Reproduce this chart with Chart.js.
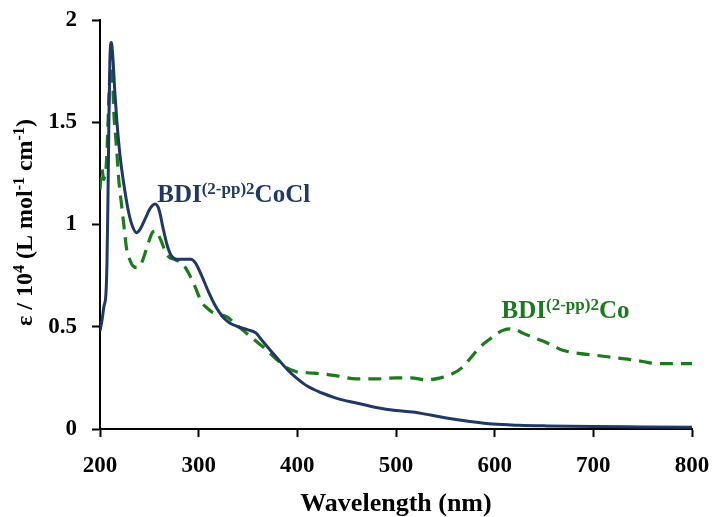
<!DOCTYPE html>
<html>
<head>
<meta charset="utf-8">
<script src="https://cdn.jsdelivr.net/npm/chart.js@4.4.1/dist/chart.umd.min.js"></script>
<style>
html,body{margin:0;padding:0;background:#fff;}
canvas{display:block;}
</style>
</head>
<body>
<canvas id="c" width="712" height="517"></canvas>
<script>
// ---- data ----
const wlCoCl = [200,202,204,206,207,208,209,210,211.5,213,215,217,220,222,225,229,233,237,241,246,251,256,260,264,268,272,278,285,292,297,303,310,316,321,326,331,340,350,358,363,370,379,390,399,410,425,440,460,480,500,517,535,551,575,598,625,653,700,750,800];
const epsCoCl = [0.48,0.53,0.60,0.66,0.80,1.10,1.50,1.80,1.89,1.82,1.65,1.51,1.35,1.27,1.17,1.06,0.99,0.96,0.98,1.03,1.08,1.10,1.07,0.98,0.90,0.85,0.83,0.83,0.83,0.81,0.75,0.67,0.61,0.57,0.54,0.52,0.50,0.485,0.47,0.44,0.40,0.35,0.29,0.25,0.21,0.176,0.15,0.127,0.105,0.09,0.083,0.068,0.054,0.037,0.024,0.018,0.015,0.012,0.01,0.008];

const wlCo = [200,201,202,203,204,205,206,207,208,209,210,211.5,213,214,216,217,219,222,225,227,230,233,237,241,245,249,253,256,259,262,266,270,275,280,285,290,296,303,309,314,320,328,338,348,358,368,378,389,399,410,425,440,460,480,500,515,531,545,555,567,576,585,598,607,615,622,628,638,649,660,669,685,703,720,737,750,764,780,800];
const epsCo = [1.17,1.23,1.27,1.24,1.22,1.25,1.27,1.35,1.48,1.62,1.73,1.77,1.68,1.55,1.42,1.36,1.22,1.09,0.96,0.88,0.83,0.80,0.79,0.80,0.85,0.91,0.96,0.97,0.95,0.92,0.87,0.84,0.83,0.82,0.80,0.76,0.70,0.62,0.59,0.57,0.56,0.55,0.51,0.47,0.43,0.39,0.345,0.30,0.28,0.275,0.27,0.26,0.245,0.245,0.25,0.25,0.24,0.25,0.265,0.30,0.35,0.40,0.45,0.48,0.49,0.485,0.47,0.45,0.43,0.405,0.385,0.37,0.36,0.35,0.34,0.33,0.32,0.32,0.32];

const xTicks = [200,300,400,500,600,700,800];
const yTicks = [0,0.5,1,1.5,2];

const labelCoCl = [{t:'BDI'},{t:'(2-pp)2',sup:true},{t:'CoCl'}];
const labelCo = [{t:'BDI'},{t:'(2-pp)2',sup:true},{t:'Co'}];
const yTitle = [{t:'\u03B5 / 10'},{t:'4',sup:true},{t:' (L mol'},{t:'-1',sup:true},{t:' cm'},{t:'-1',sup:true},{t:')'}];

// ---- styling ----
const SERIF = '"Liberation Serif","Times New Roman",serif';
const BLUE = '#203864';
const GREEN = '#1b7a1b';

function toPts(xs, ys){ return xs.map((x,i)=>({x:x,y:ys[i]})); }

function richWidth(ctx, segs, size, supSize){
  let w=0;
  for(const s of segs){
    ctx.font = 'bold '+(s.sup?supSize:size)+'px '+SERIF;
    w += ctx.measureText(s.t).width;
  }
  return w;
}
function drawRich(ctx, segs, x, y, size, supSize, rise, color){
  ctx.fillStyle = color;
  ctx.textBaseline = 'alphabetic';
  ctx.textAlign = 'left';
  let cx = x;
  for(const s of segs){
    ctx.font = 'bold '+(s.sup?supSize:size)+'px '+SERIF;
    ctx.fillText(s.t, cx, s.sup? y-rise : y);
    cx += ctx.measureText(s.t).width;
  }
}

const textPlugin = {
  id:'textPlugin',
  afterDraw(chart){
    const ctx = chart.ctx;
    const xs = chart.scales.x, ys = chart.scales.y;
    const ca = chart.chartArea;
    ctx.save();
    drawRich(ctx, labelCoCl, xs.getPixelForValue(258), ys.getPixelForValue(1.11), 25, 17, 8, BLUE);
    drawRich(ctx, labelCo, xs.getPixelForValue(607), ys.getPixelForValue(0.543), 25, 17, 8, GREEN);
    const w = richWidth(ctx, yTitle, 24, 16);
    ctx.translate(ca.left-68, (ca.top+ca.bottom)/2 - 2);
    ctx.rotate(-Math.PI/2);
    drawRich(ctx, yTitle, -w/2, 0, 24, 16, 8, '#000');
    ctx.restore();
  }
};

new Chart(document.getElementById('c'), {
  type:'line',
  data:{
    datasets:[
      {label:'BDI(2-pp)2CoCl', data:toPts(wlCoCl,epsCoCl), borderColor:BLUE, borderWidth:3, pointRadius:0, cubicInterpolationMode:'monotone', fill:false},
      {label:'BDI(2-pp)2Co', data:toPts(wlCo,epsCo), borderColor:GREEN, borderWidth:3.2, borderDash:[13,8], pointRadius:0, cubicInterpolationMode:'monotone', fill:false}
    ]
  },
  options:{
    responsive:false,
    devicePixelRatio:1,
    animation:false,
    layout:{padding:{top:20,right:20,left:0,bottom:0}},
    plugins:{legend:{display:false}, tooltip:{enabled:false}},
    scales:{
      x:{
        type:'linear', min:200, max:800,
        afterBuildTicks(s){ s.ticks = xTicks.map(v=>({value:v})); },
        afterFit(s){ s.height = 88; s.paddingLeft = 0; s.paddingRight = 0; },
        ticks:{color:'#000', font:{family:SERIF, size:23, weight:'bold'}, padding:15, maxRotation:0},
        grid:{display:true, drawOnChartArea:false, drawTicks:true, tickLength:8, tickWidth:2, tickColor:'#000', color:'#000'},
        border:{display:true, color:'#000', width:2},
        title:{display:true, text:'Wavelength (nm)', color:'#000', font:{family:SERIF, size:26, weight:'bold', lineHeight:1}, padding:{top:0,bottom:0}}
      },
      y:{
        type:'linear', min:0, max:2,
        afterBuildTicks(s){ s.ticks = yTicks.map(v=>({value:v})); },
        afterFit(s){ s.width = 100; s.paddingTop = 0; s.paddingBottom = 0; },
        ticks:{color:'#000', font:{family:SERIF, size:23, weight:'bold'}, padding:15, callback:(v)=>String(v)},
        grid:{display:true, drawOnChartArea:false, drawTicks:true, tickLength:8, tickWidth:2, tickColor:'#000', color:'#000'},
        border:{display:true, color:'#000', width:2}
      }
    }
  },
  plugins:[textPlugin]
});
</script>
</body>
</html>
